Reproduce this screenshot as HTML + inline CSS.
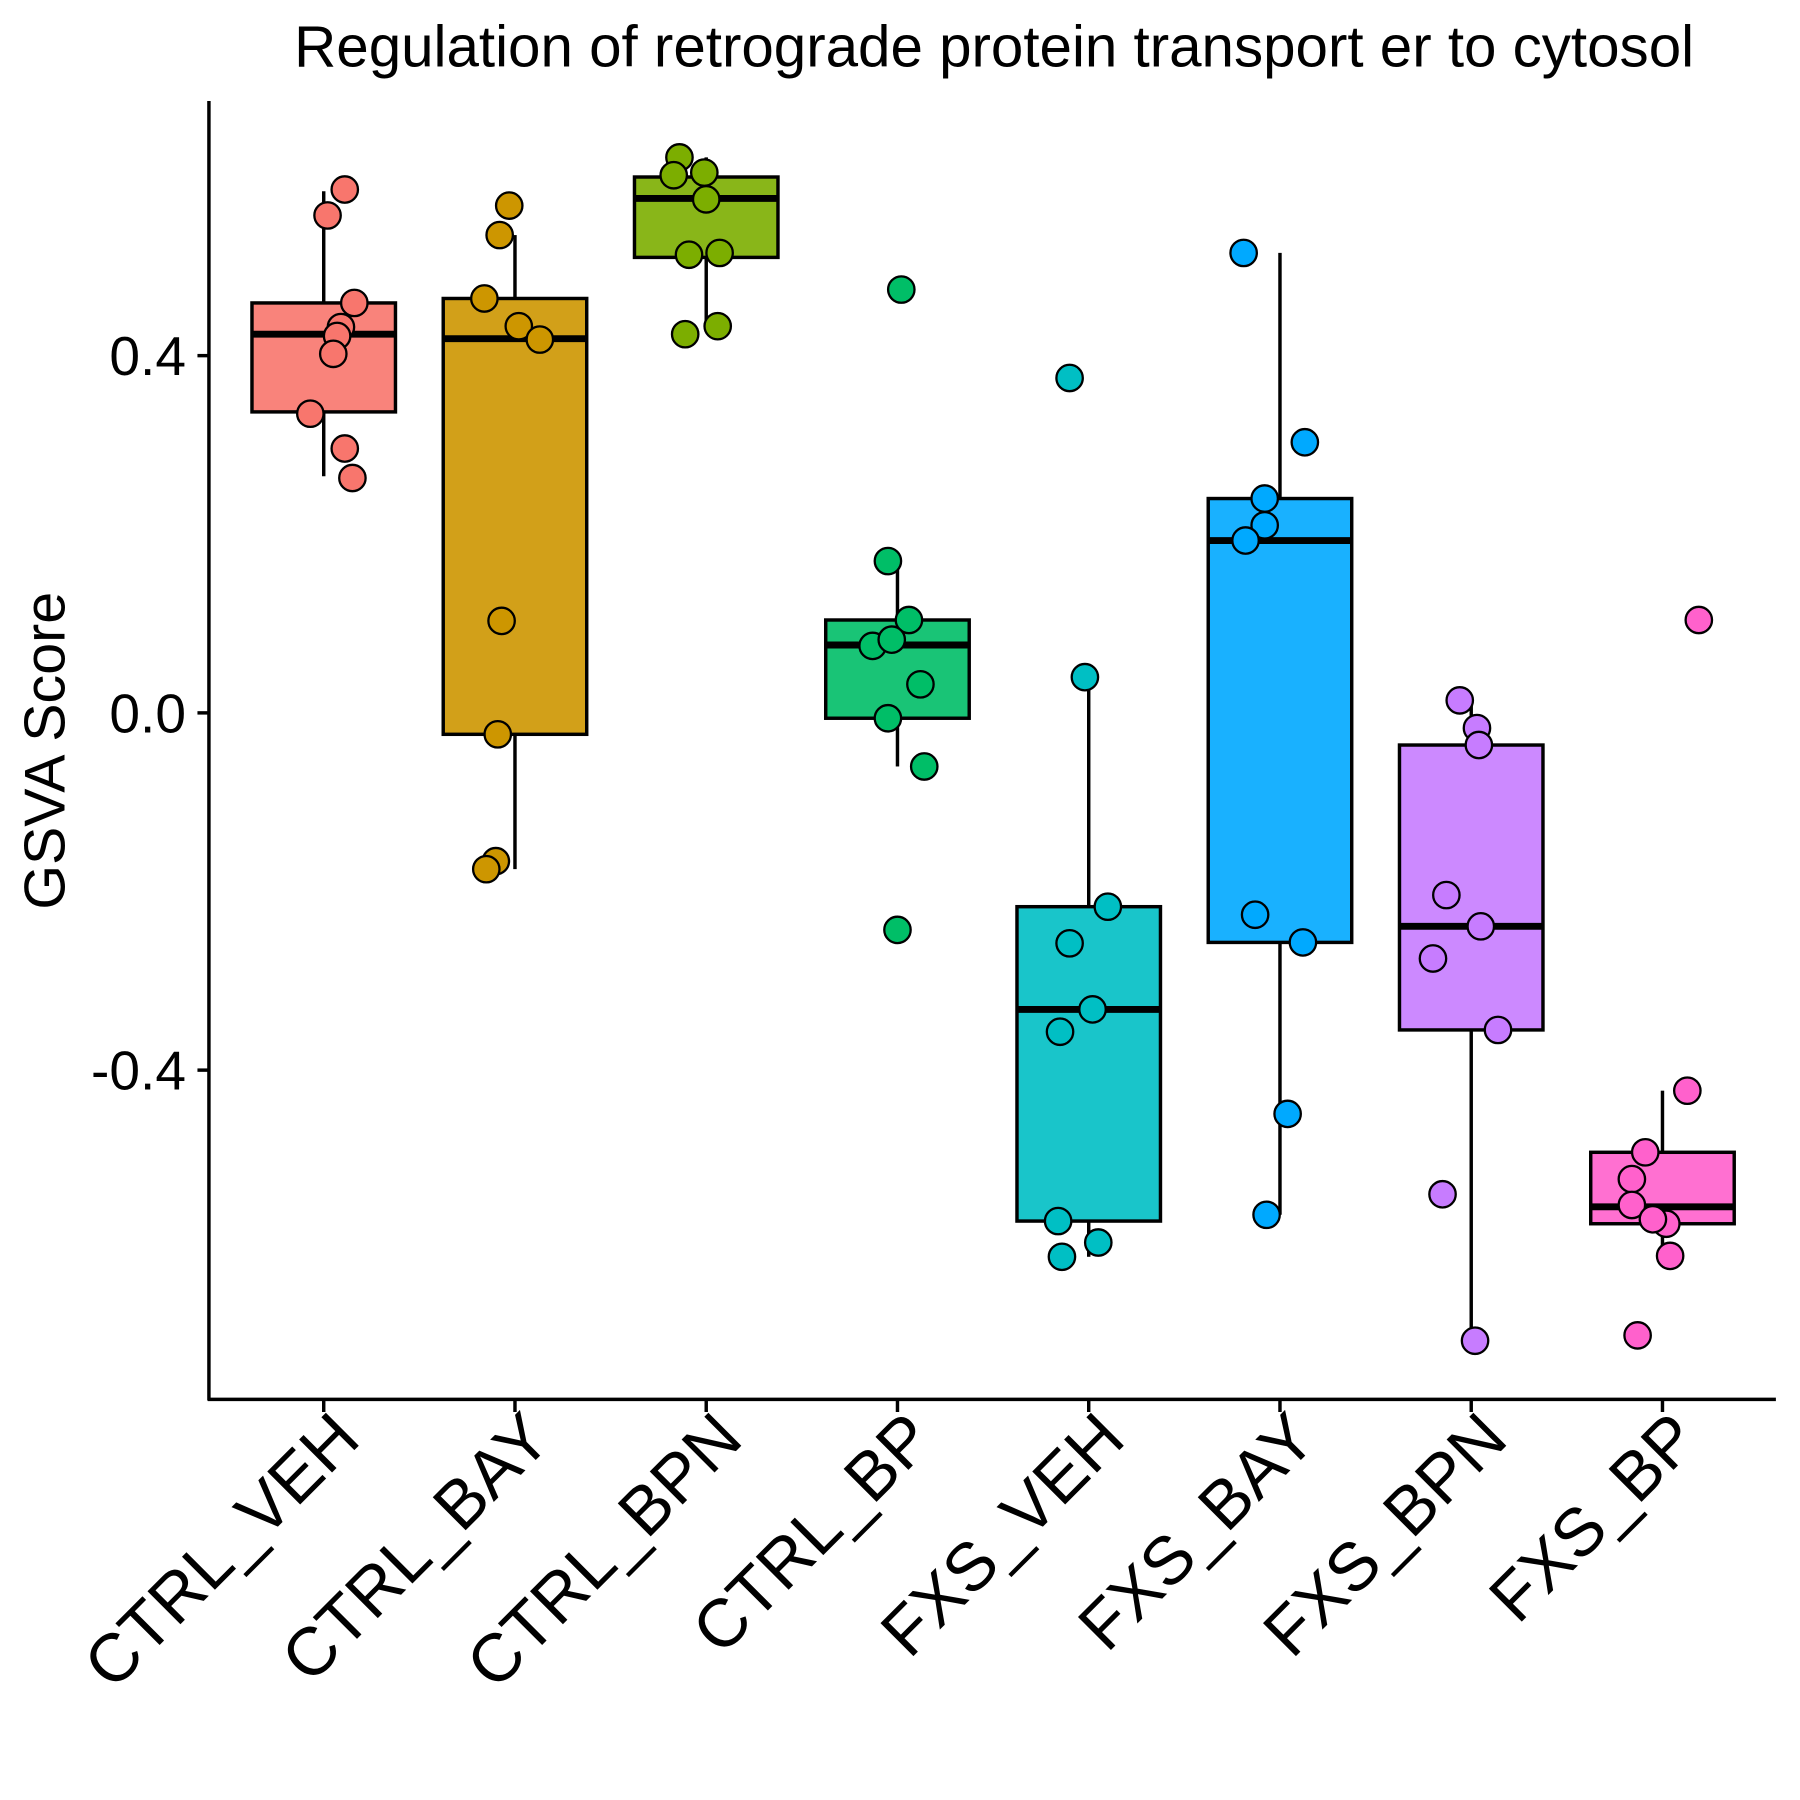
<!DOCTYPE html>
<html><head><meta charset="utf-8"><style>html,body{margin:0;padding:0;background:#fff}svg{display:block}</style></head>
<body>
<svg id="chart" width="1800" height="1800" viewBox="0 0 1568 1568" xmlns="http://www.w3.org/2000/svg" font-family="Liberation Sans, Arial, sans-serif">
<rect width="1568" height="1568" fill="#fff"/>
<text x="866" y="58" font-size="50.8" text-anchor="middle">Regulation of retrograde protein transport er to cytosol</text>
<text transform="translate(56,654) rotate(-90)" font-size="50" text-anchor="middle">GSVA Score</text>
<g id="plot"></g>
</svg>
<script>
const categories = ["CTRL_VEH","CTRL_BAY","CTRL_BPN","CTRL_BP","FXS_VEH","FXS_BAY","FXS_BPN","FXS_BP"];
const colors = ["#F8766D","#CD9600","#7CAE00","#00BE67","#00BFC4","#00A9FF","#C77CFF","#FF61CC"];
const whiskerLow = [0.265,-0.175,0.434,-0.060,-0.609,-0.562,-0.703,-0.608];
const q1 = [0.337,-0.024,0.510,-0.006,-0.569,-0.257,-0.355,-0.572];
const medians = [0.424,0.419,0.576,0.076,-0.332,0.193,-0.239,-0.553];
const q3 = [0.459,0.464,0.600,0.104,-0.217,0.240,-0.036,-0.492];
const whiskerHigh = [0.584,0.535,0.622,0.168,0.040,0.515,0.014,-0.423];
const pointValues = [
 [0.586,0.557,0.459,0.432,0.422,0.402,0.335,0.296,0.263],
 [0.568,0.535,0.464,0.433,0.418,0.103,-0.024,-0.166,-0.175],
 [0.622,0.602,0.605,0.575,0.513,0.515,0.433,0.424],
 [0.474,0.170,0.104,0.075,0.082,0.032,-0.006,-0.060,-0.243],
 [0.375,0.040,-0.217,-0.258,-0.332,-0.357,-0.569,-0.593,-0.609],
 [0.515,0.303,0.240,0.210,0.193,-0.226,-0.257,-0.449,-0.562],
 [0.014,-0.017,-0.036,-0.204,-0.239,-0.275,-0.355,-0.539,-0.703],
 [0.104,-0.423,-0.492,-0.522,-0.551,-0.572,-0.567,-0.608,-0.697]
];
const pointJitter = [
 [0.11,0.02,0.16,0.09,0.07,0.05,-0.07,0.11,0.15],
 [-0.03,-0.08,-0.16,0.02,0.13,-0.07,-0.09,-0.10,-0.15],
 [-0.14,-0.17,-0.01,0.00,-0.09,0.07,0.06,-0.11],
 [0.02,-0.05,0.06,-0.13,-0.03,0.12,-0.05,0.14,0.00],
 [-0.10,-0.02,0.10,-0.10,0.02,-0.15,-0.16,0.05,-0.14],
 [-0.19,0.13,-0.08,-0.08,-0.18,-0.13,0.12,0.04,-0.07],
 [-0.06,0.03,0.04,-0.13,0.05,-0.20,0.14,-0.15,0.02],
 [0.19,0.13,-0.09,-0.16,-0.16,0.02,-0.05,0.04,-0.13]
];
const yTicks = [0.4,0.0,-0.4];
const yTickLabels = ["0.4","0.0","-0.4"];

const NS="http://www.w3.org/2000/svg";
const g=document.getElementById('plot');
const y=v=>621-778*v;
const xc=i=>282+i*166.6;
const BW=62.5;
function mk(tag,attrs,parent){const e=document.createElementNS(NS,tag);for(const k in attrs)e.setAttribute(k,attrs[k]);(parent||g).appendChild(e);return e;}

categories.forEach((c,i)=>{
 const x=xc(i);
 const grp=mk('g',{});
 
 
 const w1=mk('line',{x1:x,x2:x,y1:y(whiskerHigh[i]),y2:y(q3[i]),stroke:'#000','stroke-width':3},grp);
 
 
 const w2=mk('line',{x1:x,x2:x,y1:y(q1[i]),y2:y(whiskerLow[i]),stroke:'#000','stroke-width':3},grp);
 
 
 const r=mk('rect',{x:x-BW,y:y(q3[i]),width:2*BW,height:y(q1[i])-y(q3[i]),fill:colors[i],'fill-opacity':0.9,stroke:'#000','stroke-width':3},grp);
 
 
 const m=mk('line',{x1:x-BW,x2:x+BW,y1:y(medians[i]),y2:y(medians[i]),stroke:'#000','stroke-width':6},grp);
 
 
 pointValues[i].forEach((v,j)=>{
  const p=mk('circle',{cx:x+pointJitter[i][j]*166.6,cy:y(v),r:11.5,fill:colors[i],stroke:'#000','stroke-width':2},grp);
  
  
 });
});

const ya=mk('line',{x1:182,x2:182,y1:88,y2:1220,stroke:'#000','stroke-width':3});


const xa=mk('line',{x1:181,x2:1547,y1:1219,y2:1219,stroke:'#000','stroke-width':3});


yTicks.forEach((t,k)=>{
 const tk=mk('line',{x1:172,x2:182,y1:y(t),y2:y(t),stroke:'#000','stroke-width':3});
 
 
 const tl=mk('text',{x:162,y:y(t)+17,'font-size':48,'text-anchor':'end',fill:'#000'});
 tl.textContent=yTickLabels[k];
 
 
});
categories.forEach((c,i)=>{
 const x=xc(i);
 const tk=mk('line',{x1:x,x2:x,y1:1219,y2:1230,stroke:'#000','stroke-width':3});
 
 
 const tl=mk('text',{transform:`translate(${x+34},${1256}) rotate(-45)`,'font-size':59,'text-anchor':'end',fill:'#000'});
 tl.textContent=c;
 
 
});
</script>
</body></html>
